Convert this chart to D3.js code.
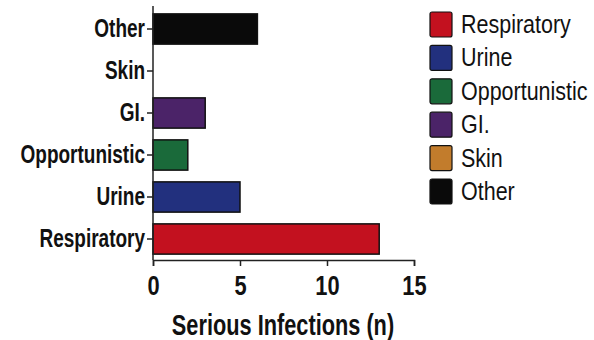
<!DOCTYPE html>
<html>
<head>
<meta charset="utf-8">
<script src="https://cdn.jsdelivr.net/npm/d3@7"></script>
<style>
  html, body { margin: 0; padding: 0; background: #fff; }
  svg { display: block; }
  text { font-family: "Liberation Sans", Arial, sans-serif; }
</style>
</head>
<body>
<svg id="chart" width="594" height="340"></svg>
<script>
// Serious infections by type
const categories = ["Other", "Skin", "GI.", "Opportunistic", "Urine", "Respiratory"];
const counts     = [6, 0, 3, 2, 5, 13];
const colors     = ["#0a0a0a", "#c27c2c", "#4b2368", "#1a6a3a", "#22307e", "#c3111f"];
const xTicks     = [0, 5, 10, 15];
const legendOrder = ["Respiratory", "Urine", "Opportunistic", "GI.", "Skin", "Other"];
const xTitle = "Serious Infections (n)";

// horizontal squeeze for the condensed lettering
const NARROW_BOLD = 0.76;
const NARROW_REG = 0.86;

const svg = d3.select("#chart");
const colorOf = d3.scaleOrdinal().domain(categories).range(colors);

const x = d3.scaleLinear().domain([0, 15]).range([153, 414]);
const y = d3.scaleBand().domain(categories).range([8, 260]).paddingInner(0.28).paddingOuter(0.14);

// bars
svg.append("g").selectAll("rect")
  .data(categories.map((c, i) => ({ c, v: counts[i] })))
  .join("rect")
  .attr("x", x(0))
  .attr("y", d => y(d.c))
  .attr("width", d => x(d.v) - x(0))
  .attr("height", y.bandwidth())
  .attr("fill", d => colorOf(d.c))
  .attr("stroke", "#111")
  .attr("stroke-width", d => d.v > 0 ? 1.5 : 0);

// y axis
const yAxis = svg.append("g")
  .attr("transform", `translate(${x(0)},0)`)
  .call(d3.axisLeft(y).tickSize(6).tickPadding(2));
yAxis.select(".domain").attr("stroke", "#222").attr("stroke-width", 1.5)
  .attr("d", `M0,6V260`);
yAxis.selectAll(".tick line").attr("stroke", "#222").attr("stroke-width", 1.5);
yAxis.selectAll(".tick text")
  .attr("x", -8 / NARROW_BOLD)
  .attr("transform", `scale(${NARROW_BOLD},1)`)
  .attr("fill", "#111")
  .style("font-size", "25px")
  .style("font-weight", "bold");

// x axis
const xAxis = svg.append("g")
  .attr("transform", `translate(0,${260})`)
  .call(d3.axisBottom(x).tickValues(xTicks).tickSize(6).tickSizeOuter(6));
xAxis.select(".domain").attr("stroke", "#222").attr("stroke-width", 1.5);
xAxis.selectAll(".tick line").attr("stroke", "#222").attr("stroke-width", 1.5);
xAxis.selectAll(".tick text")
  .attr("y", 35)
  .attr("dy", 0)
  .attr("transform", `scale(0.78,1)`)
  .attr("fill", "#111")
  .style("font-size", "28px")
  .style("font-weight", "bold");

// x axis title
svg.append("text")
  .attr("transform", `translate(283,335) scale(0.75,1)`)
  .attr("text-anchor", "middle")
  .attr("fill", "#111")
  .style("font-size", "29px")
  .style("font-weight", "bold")
  .text(xTitle);

// legend
const legend = svg.append("g").attr("transform", "translate(430,12)");
const item = legend.selectAll("g")
  .data(legendOrder)
  .join("g")
  .attr("transform", (d, i) => `translate(0,${i * 33.4})`);
item.append("rect")
  .attr("width", 22)
  .attr("height", 25)
  .attr("rx", 2)
  .attr("fill", d => colorOf(d))
  .attr("stroke", "#111")
  .attr("stroke-width", 1.2);
item.append("text")
  .attr("transform", `translate(31,21) scale(${NARROW_REG},1)`)
  .attr("fill", "#111")
  .style("font-size", "25px")
  .text(d => d);
</script>
</body>
</html>
